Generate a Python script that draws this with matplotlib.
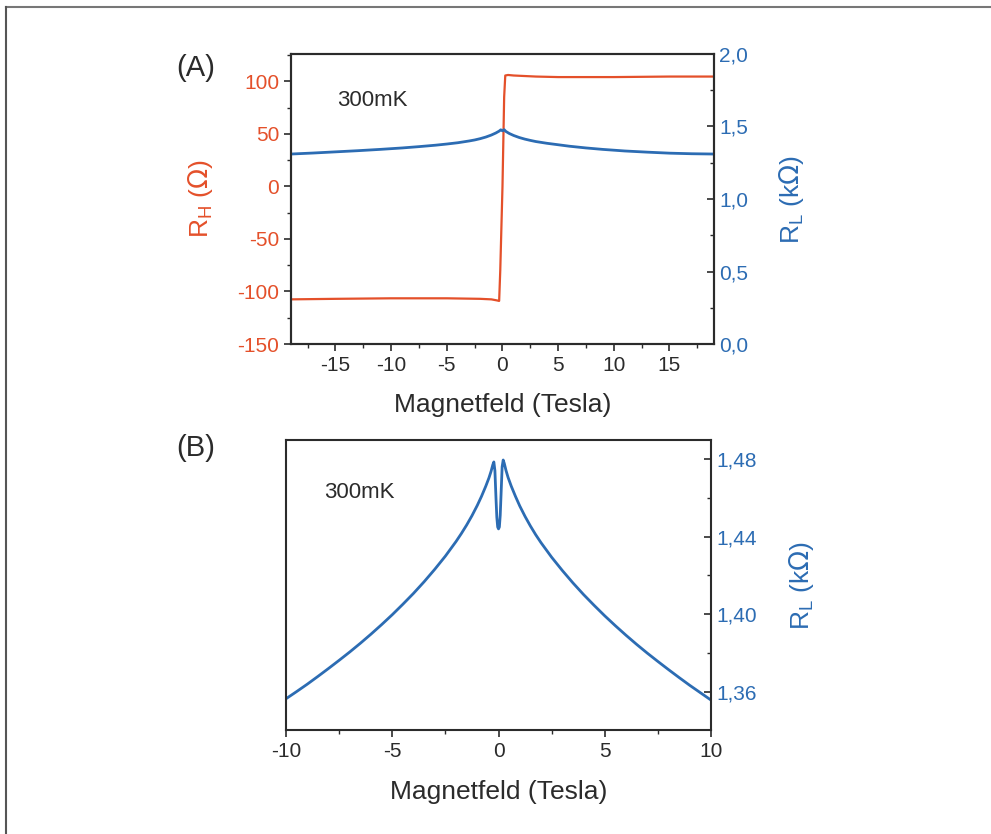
import numpy as np
import matplotlib.pyplot as plt
from matplotlib.lines import Line2D
from matplotlib.ticker import MultipleLocator, FixedLocator, FixedFormatter

plt.rcParams['font.family'] = ['Liberation Sans', 'DejaVu Sans']
plt.rcParams['axes.unicode_minus'] = False

red = '#e4502a'
blue = '#2c6cb3'
dark = '#2b2b2b'

# panel A: Hall resistance (Ohm)
xa_h = [-19, -15, -10, -5, -2, -1, -0.5, -0.3, -0.2, 0.0, 0.15, 0.25, 0.5, 1, 3, 5, 10, 15, 19]
rh = [-107.5, -107, -106.5, -106.5, -107, -107.5, -108.5, -109, -80, 0, 85, 105.5, 106, 105.5, 104.5, 104, 104, 104.5, 104.5]

# panel A: longitudinal resistance (kOhm)
xa_l = [-19, -17, -15, -13, -11, -9, -7.5, -6, -5, -4, -3, -2.5, -2, -1.5, -1, -0.6, -0.3, -0.15,
        0.0, 0.15, 0.3, 0.6, 1, 1.5, 2, 2.5, 3, 4, 5, 6, 7.5, 9, 11, 13, 15, 17, 19]
rl_a = [1.310, 1.317, 1.325, 1.333, 1.342, 1.352, 1.361, 1.371, 1.379, 1.388, 1.400, 1.407, 1.416,
        1.427, 1.441, 1.455, 1.468, 1.477, 1.470, 1.478, 1.466, 1.452, 1.438, 1.424, 1.413, 1.404,
        1.396, 1.384, 1.374, 1.364, 1.352, 1.342, 1.331, 1.323, 1.316, 1.312, 1.310]

# panel B: longitudinal resistance (kOhm), low field
xb = [-10, -9.5, -9, -8.5, -8, -7.5, -7, -6.5, -6, -5.5, -5, -4.5, -4, -3.5, -3, -2.5, -2, -1.75,
      -1.5, -1.25, -1, -0.8, -0.6, -0.45, -0.35, -0.27, -0.22, -0.17, -0.12, -0.08, -0.04, 0.0,
      0.04, 0.08, 0.12, 0.17, 0.22, 0.27, 0.35, 0.45, 0.6, 0.8, 1, 1.25, 1.5, 1.75, 2, 2.5, 3,
      3.5, 4, 4.5, 5, 5.5, 6, 6.5, 7, 7.5, 8, 8.5, 9, 9.5, 10]
rl_b = [1.3565, 1.3602, 1.3640, 1.3680, 1.3721, 1.3763, 1.3806, 1.3851, 1.3898, 1.3947, 1.3998,
        1.4052, 1.4108, 1.4168, 1.4232, 1.4300, 1.4375, 1.4416, 1.4460, 1.4508, 1.4561, 1.4608,
        1.4660, 1.4703, 1.4737, 1.4770, 1.4785, 1.4740, 1.4600, 1.4500, 1.4450, 1.4440,
        1.4450, 1.4510, 1.4620, 1.4760, 1.4795, 1.4778, 1.4742, 1.4705, 1.4660, 1.4607, 1.4558,
        1.4504, 1.4455, 1.4410, 1.4369, 1.4294, 1.4226, 1.4162, 1.4102, 1.4046, 1.3992, 1.3941,
        1.3892, 1.3845, 1.3800, 1.3757, 1.3715, 1.3674, 1.3634, 1.3596, 1.3558]

a_left_ticks = [-150, -100, -50, 0, 50, 100]
a_right_ticks = [0.0, 0.5, 1.0, 1.5, 2.0]
a_right_labels = ['0,0', '0,5', '1,0', '1,5', '2,0']
a_x_ticks = [-15, -10, -5, 0, 5, 10, 15]
b_x_ticks = [-10, -5, 0, 5, 10]
b_right_ticks = [1.36, 1.40, 1.44, 1.48]
b_right_labels = ['1,36', '1,40', '1,44', '1,48']

fig = plt.figure(figsize=(9.91, 8.34), dpi=100)
# frame lines (top and left only, as in the scan)
fig.add_artist(Line2D([0.006, 1.0], [0.992, 0.992], transform=fig.transFigure, color='#777777', lw=1.5))
fig.add_artist(Line2D([0.006, 0.006], [0.0, 0.992], transform=fig.transFigure, color='#555555', lw=1.5))

# ---- panel A ----
ax = fig.add_axes([0.2936, 0.5875, 0.4269, 0.3478])
ax.plot(xa_h, rh, color=red, lw=1.6)
ax.set_xlim(-19, 19)
ax.set_ylim(-150, 126)
ax.set_yticks(a_left_ticks)
ax.yaxis.set_minor_locator(MultipleLocator(25))
ax.set_xticks(a_x_ticks)
ax.xaxis.set_minor_locator(MultipleLocator(2.5))
ax.tick_params(axis='y', which='both', direction='out', color=dark, labelcolor=red, labelsize=15)
ax.tick_params(axis='x', which='both', direction='out', color=dark, labelcolor=dark, labelsize=15)
ax.tick_params(which='major', length=5, width=1.2)
ax.tick_params(which='minor', length=3, width=1)
ax.set_xlabel('Magnetfeld (Tesla)', fontsize=19, color=dark, labelpad=13)
ax.set_ylabel(r'R$_\mathregular{H}$ ($\Omega$)', fontsize=19, color=red, labelpad=16)
ax.text(0.11, 0.82, '300mK', transform=ax.transAxes, fontsize=16, color=dark)
for s in ax.spines.values():
    s.set_linewidth(1.5)
    s.set_color(dark)

ax2 = ax.twinx()
ax2.plot(xa_l, rl_a, color=blue, lw=2)
ax2.set_ylim(0, 2.0)
ax2.yaxis.set_major_locator(FixedLocator(a_right_ticks))
ax2.yaxis.set_major_formatter(FixedFormatter(a_right_labels))
ax2.yaxis.set_minor_locator(MultipleLocator(0.25))
ax2.tick_params(axis='y', which='both', direction='in', color=dark, labelcolor=blue, labelsize=15)
ax2.tick_params(which='major', length=5, width=1.2)
ax2.tick_params(which='minor', length=3, width=1)
ax2.set_ylabel(r'R$_\mathregular{L}$ (k$\Omega$)', fontsize=19, color=blue, labelpad=21)
for s in ax2.spines.values():
    s.set_linewidth(1.5)
    s.set_color(dark)
fig.text(0.197, 0.918, '(A)', fontsize=21, color=dark, ha='center', va='center')

# ---- panel B ----
bx = fig.add_axes([0.2886, 0.1247, 0.4289, 0.3477])
bx.plot(xb, rl_b, color=blue, lw=2)
bx.set_xlim(-10, 10)
bx.set_ylim(1.3404, 1.4898)
bx.set_xticks(b_x_ticks)
bx.xaxis.set_minor_locator(MultipleLocator(2.5))
bx.yaxis.set_ticks_position('right')
bx.yaxis.set_label_position('right')
bx.yaxis.set_major_locator(FixedLocator(b_right_ticks))
bx.yaxis.set_major_formatter(FixedFormatter(b_right_labels))
bx.yaxis.set_minor_locator(MultipleLocator(0.02))
bx.tick_params(axis='y', which='both', direction='in', color=dark, labelcolor=blue, labelsize=15)
bx.tick_params(axis='x', which='both', direction='out', color=dark, labelcolor=dark, labelsize=15)
bx.tick_params(which='major', length=5, width=1.2)
bx.tick_params(which='minor', length=3, width=1)
bx.set_xlabel('Magnetfeld (Tesla)', fontsize=19, color=dark, labelpad=14)
bx.set_ylabel(r'R$_\mathregular{L}$ (k$\Omega$)', fontsize=19, color=blue, labelpad=22)
bx.text(0.09, 0.80, '300mK', transform=bx.transAxes, fontsize=16, color=dark)
for s in bx.spines.values():
    s.set_linewidth(1.5)
    s.set_color(dark)
fig.text(0.197, 0.463, '(B)', fontsize=21, color=dark, ha='center', va='center')

plt.savefig('out.png', dpi=100)
